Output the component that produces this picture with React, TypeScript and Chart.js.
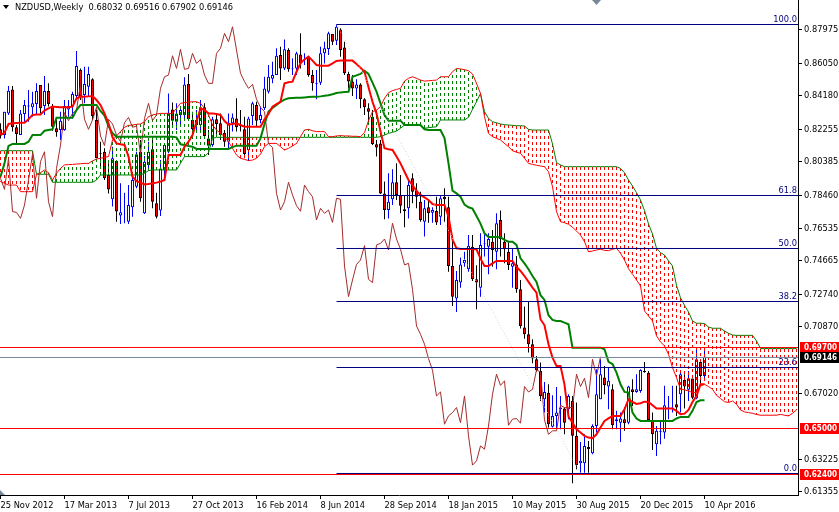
import { useEffect, useRef } from "react"
import { Chart, registerables } from "chart.js"

Chart.register(...registerables)

const dateLabels = ["25 Nov 2012", "17 Mar 2013", "7 Jul 2013", "27 Oct 2013", "16 Feb 2014", "8 Jun 2014", "28 Sep 2014", "18 Jan 2015", "10 May 2015", "30 Aug 2015", "20 Dec 2015", "10 Apr 2016"]
const dateTicks = [0, 16, 32, 48, 64, 80, 96, 112, 128, 144, 160, 176]
const priceTicks = [0.87975, 0.8605, 0.8418, 0.82255, 0.80385, 0.7846, 0.76535, 0.74665, 0.7274, 0.7087, 0.6702, 0.63225, 0.61355]

const opens = [
  .8225,.8192,.8317,.8455,.8237,.8192,.8313,.8356,.8352,.8371,
  .8480,.8359,.8446,.8359,.8231,.8221,.8221,.8340,.8356,.8417,
  .8567,.8423,.8471,.8513,.8279,.8087,.8096,.7962,.7822,.8043,
  .7728,.7710,.7693,.7776,.7895,.8096,.7741,.8020,.8110,.7799,
  .7757,.7991,.8096,.8340,.8269,.8308,.8308,.8486,.8279,.8248,
  .8250,.8352,.8173,.8135,.8283,.8260,.8206,.8154,.8260,.8288,
  .8250,.8225,.8106,.8302,.8365,.8279,.8346,.8442,.8517,.8538,
  .8653,.8576,.8682,.8571,.8576,.8657,.8624,.8640,.8538,.8486,
  .8494,.8663,.8688,.8774,.8736,.8801,.8697,.8544,.8500,.8461,
  .8484,.8398,.8346,.8298,.8139,.8144,.7856,.7760,.7822,.7920,
  .7847,.7764,.7770,.7943,.7872,.7808,.7693,.7776,.7745,.7755,
  .7722,.7837,.7776,.7438,.7250,.7342,.7453,.7419,.7549,.7361,
  .7313,.7563,.7549,.7578,.7520,.7703,.7578,.7520,.7434,.7447,
  .7303,.7083,.7044,.6987,.6900,.6833,.6670,.6708,.6512,.6574,
  .6612,.6616,.6612,.6660,.6459,.6301,.6301,.6395,.6359,.6516,
  .6670,.6795,.6743,.6727,.6545,.6535,.6555,.6535,.6727,.6712,
  .6718,.6833,.6823,.6551,.6411,.6482,.6478,.6616,.6616,.6641,
  .6699,.6781,.6724,.6789,.6674,.6885,.68032,
]
const highs = [
  .8260,.8327,.8475,.8475,.8250,.8336,.8394,.8452,.8442,.8490,
  .8480,.8532,.8490,.8371,.8279,.8327,.8394,.8394,.8442,.8676,
  .8576,.8586,.8586,.8519,.8336,.8154,.8116,.8029,.8125,.8048,
  .7914,.7860,.7904,.7952,.8096,.8164,.8071,.8154,.8164,.7860,
  .8048,.8144,.8432,.8379,.8375,.8356,.8525,.8544,.8327,.8336,
  .8394,.8375,.8221,.8298,.8317,.8317,.8221,.8317,.8317,.8404,
  .8336,.8298,.8298,.8384,.8384,.8356,.8528,.8596,.8615,.8692,
  .8701,.8743,.8692,.8634,.8672,.8778,.8663,.8640,.8567,.8567,
  .8701,.8730,.8788,.8774,.8832,.8807,.8730,.8557,.8538,.8513,
  .8490,.8404,.8375,.8336,.8164,.8164,.7924,.7972,.7995,.8029,
  .7962,.7847,.7933,.7972,.7914,.7866,.7818,.7818,.7776,.7837,
  .7847,.7885,.7837,.7616,.7409,.7486,.7520,.7616,.7616,.7442,
  .7626,.7626,.7626,.7645,.7741,.7757,.7626,.7578,.7540,.7495,
  .7357,.7204,.7236,.7016,.6919,.6881,.6770,.6756,.6693,.6741,
  .6689,.6622,.6699,.6689,.6651,.6424,.6468,.6430,.6526,.6843,
  .6900,.6862,.6852,.6756,.6603,.6593,.6622,.6747,.6785,.6814,
  .6843,.6885,.6833,.6593,.6516,.6545,.6747,.6689,.6747,.6747,
  .6833,.6814,.6833,.6789,.6958,.6900,.69516,
]
const lows = [
  .8173,.8173,.8308,.8212,.8144,.8192,.8269,.8269,.8298,.8308,
  .8317,.8308,.8356,.8217,.8183,.8164,.8217,.8298,.8288,.8394,
  .8394,.8375,.8413,.8279,.8058,.8000,.7933,.7856,.7780,.7693,
  .7680,.7684,.7680,.7722,.7885,.7808,.7737,.8000,.7770,.7712,
  .7726,.7952,.8087,.8240,.8221,.8240,.8283,.8279,.8202,.8212,
  .8221,.8183,.8077,.8125,.8192,.8164,.8125,.8116,.8212,.8212,
  .8212,.8058,.8043,.8250,.8240,.8260,.8336,.8432,.8490,.8538,
  .8509,.8567,.8557,.8538,.8538,.8576,.8596,.8528,.8448,.8398,
  .8480,.8605,.8653,.8711,.8711,.8644,.8538,.8461,.8417,.8400,
  .8346,.8308,.8260,.8135,.8068,.7853,.7707,.7712,.7789,.7818,
  .7741,.7661,.7712,.7799,.7770,.7693,.7607,.7687,.7687,.7674,
  .7674,.7693,.7405,.7207,.7173,.7313,.7434,.7405,.7351,.7188,
  .7261,.7492,.7390,.7434,.7419,.7492,.7453,.7415,.7313,.7284,
  .7077,.7019,.6939,.6877,.6829,.6660,.6593,.6507,.6507,.6497,
  .6497,.6468,.6555,.6186,.6267,.6247,.6247,.6247,.6353,.6478,
  .6670,.6699,.6612,.6497,.6497,.6424,.6488,.6526,.6631,.6708,
  .6708,.6823,.6545,.6378,.6343,.6411,.6443,.6555,.6593,.6574,
  .6593,.6616,.6660,.6670,.6670,.6747,.67902,
]
const closes = [
  .8192,.8327,.8448,.8237,.8198,.8317,.8365,.8363,.8375,.8446,
  .8346,.8446,.8371,.8240,.8208,.8275,.8359,.8359,.8429,.8590,
  .8413,.8486,.8544,.8302,.8058,.8083,.7943,.7879,.8058,.7751,
  .7747,.7712,.7789,.7933,.8081,.7828,.8039,.8096,.7808,.7722,
  .8000,.8135,.8321,.8275,.8317,.8336,.8484,.8283,.8225,.8279,
  .8352,.8187,.8131,.8283,.8256,.8192,.8154,.8263,.8294,.8237,
  .8244,.8083,.8288,.8375,.8275,.8308,.8461,.8528,.8538,.8649,
  .8576,.8686,.8571,.8576,.8663,.8605,.8628,.8538,.8490,.8490,
  .8663,.8692,.8778,.8730,.8816,.8682,.8548,.8500,.8461,.8484,
  .8398,.8352,.8327,.8141,.8121,.7856,.7760,.7808,.7920,.7847,
  .7785,.7753,.7904,.7866,.7837,.7703,.7770,.7741,.7760,.7689,
  .7828,.7822,.7438,.7261,.7357,.7447,.7472,.7555,.7361,.7342,
  .7559,.7568,.7593,.7530,.7684,.7593,.7534,.7444,.7453,.7303,
  .7092,.7044,.6987,.6904,.6837,.6689,.6712,.6526,.6574,.6593,
  .6622,.6535,.6689,.6459,.6290,.6315,.6401,.6382,.6516,.6699,
  .6814,.6750,.6776,.6520,.6555,.6559,.6532,.6743,.6712,.6727,
  .6839,.6827,.6551,.6468,.6488,.6488,.6635,.6622,.6622,.6622,
  .6814,.6743,.6791,.6679,.6900,.6804,.69146,
]
const tenkan = [
  .8192,.8206,.8256,.8260,.8262,.8263,.8263,.8283,.8308,.8310,
  .8311,.8333,.8346,.8356,.8354,.8352,.8352,.8352,.8356,.8404,
  .8413,.8413,.8415,.8417,.8394,.8365,.8317,.8260,.8179,.8144,
  .8139,.8135,.8068,.7952,.7927,.7918,.7908,.7910,.7914,.7918,
  .7924,.7933,.8077,.8077,.8077,.8077,.8125,.8154,.8192,.8269,
  .8346,.8336,.8317,.8317,.8313,.8308,.8273,.8252,.8256,.8260,
  .8250,.8240,.8240,.8240,.8240,.8240,.8283,.8313,.8356,.8371,
  .8384,.8490,.8496,.8500,.8557,.8605,.8628,.8644,.8621,.8596,
  .8592,.8592,.8592,.8605,.8619,.8621,.8621,.8621,.8621,.8601,
  .8580,.8557,.8467,.8384,.8317,.8212,.8116,.8110,.8106,.8068,
  .8029,.7981,.7933,.7904,.7870,.7847,.7833,.7818,.7795,.7789,
  .7789,.7789,.7722,.7591,.7540,.7536,.7536,.7536,.7536,.7534,
  .7480,.7438,.7438,.7453,.7467,.7467,.7467,.7467,.7467,.7432,
  .7409,.7380,.7346,.7313,.7284,.7131,.7096,.6987,.6910,.6862,
  .6862,.6754,.6570,.6535,.6497,.6478,.6459,.6449,.6445,.6468,
  .6507,.6545,.6560,.6574,.6574,.6574,.6612,.6670,.6654,.6643,
  .6647,.6656,.6654,.6635,.6616,.6616,.6616,.6616,.6616,.6603,
  .6584,.6587,.6608,.6654,.6689,.6756,.6756,
]
const kijun = [
  .7952,.8029,.8129,.8141,.8141,.8141,.8141,.8154,.8192,.8192,
  .8192,.8217,.8221,.8225,.8292,.8292,.8292,.8292,.8292,.8336,
  .8365,.8365,.8365,.8365,.8365,.8331,.8304,.8244,.8202,.8183,
  .8183,.8183,.8183,.8183,.8183,.8183,.8183,.8183,.8183,.8183,
  .8183,.8183,.8183,.8183,.8179,.8139,.8135,.8129,.8125,.8112,
  .8112,.8112,.8112,.8112,.8112,.8112,.8112,.8112,.8123,.8131,
  .8131,.8131,.8131,.8131,.8131,.8173,.8256,.8327,.8348,.8365,
  .8384,.8396,.8404,.8406,.8407,.8407,.8409,.8411,.8413,.8413,
  .8415,.8419,.8421,.8427,.8434,.8438,.8440,.8442,.8528,.8536,
  .8544,.8563,.8544,.8494,.8442,.8375,.8308,.8275,.8275,.8275,
  .8275,.8250,.8250,.8250,.8250,.8250,.8225,.8221,.8221,.8221,
  .8221,.8175,.8029,.7872,.7856,.7837,.7791,.7776,.7768,.7726,
  .7682,.7626,.7605,.7605,.7605,.7603,.7588,.7578,.7578,.7559,
  .7482,.7453,.7419,.7380,.7346,.7269,.7242,.7154,.7127,.7121,
  .7121,.7111,.7102,.6967,.6967,.6967,.6967,.6967,.6967,.6967,
  .6967,.6958,.6885,.6873,.6823,.6756,.6712,.6708,.6593,.6559,
  .6545,.6545,.6545,.6545,.6545,.6545,.6545,.6545,.6545,.6559,
  .6568,.6568,.6568,.6603,.6654,.6664,.6664,
]
const spanA = [
  .7924,.7914,.7904,.7904,.7904,.7866,.7866,.7866,.7866,.7966,
  .7975,.7991,.7975,.7933,.7972,.8000,.8020,.8022,.8023,.8025,
  .8027,.8029,.8029,.8043,.8054,.8058,.8064,.8068,.8164,.8187,
  .8212,.8237,.8248,.8250,.8254,.8256,.8269,.8298,.8308,.8313,
  .8317,.8317,.8317,.8317,.8346,.8375,.8379,.8382,.8384,.8384,
  .8375,.8346,.8308,.8250,.8221,.8202,.8183,.8154,.8116,.8077,
  .8058,.8052,.8045,.8048,.8058,.8083,.8125,.8144,.8144,.8144,
  .8125,.8106,.8116,.8129,.8144,.8183,.8221,.8225,.8217,.8212,
  .8212,.8212,.8183,.8183,.8187,.8189,.8187,.8187,.8185,.8185,
  .8183,.8206,.8275,.8327,.8336,.8356,.8404,.8436,.8448,.8455,
  .8461,.8503,.8519,.8528,.8519,.8509,.8503,.8505,.8507,.8509,
  .8528,.8528,.8528,.8557,.8576,.8573,.8569,.8563,.8544,.8490,
  .8432,.8298,.8202,.8183,.8173,.8164,.8144,.8125,.8102,.8093,
  .8087,.8058,.8029,.8023,.8018,.8014,.8010,.7981,.7895,.7751,
  .7693,.7687,.7678,.7661,.7639,.7616,.7578,.7520,.7524,.7530,
  .7534,.7528,.7526,.7534,.7540,.7511,.7472,.7422,.7390,.7357,
  .7323,.7179,.7150,.7121,.7035,.7000,.6977,.6929,.6852,.6795,
  .6727,.6724,.6718,.6708,.6708,.6747,.6756,.6743,.6727,.6693,
  .6674,.6656,.6651,.6660,.6641,.6608,.6597,.6593,.6589,.6582,
  .6578,.6578,.6578,.6578,.6578,.6583,.6578,.6574,.6589,.6608,
]
const spanB = [
  .8102,.8102,.8102,.8102,.8102,.8102,.8102,.8102,.8102,.7966,
  .7966,.7966,.7966,.7920,.7920,.7920,.7920,.7920,.7920,.7920,
  .7920,.7920,.7920,.7920,.7933,.7962,.7962,.7962,.7962,.7962,
  .7962,.7962,.7962,.7962,.7962,.7962,.7972,.7987,.7991,.7991,
  .7991,.7991,.7991,.7991,.7991,.8029,.8068,.8068,.8068,.8068,
  .8068,.8068,.8091,.8173,.8179,.8179,.8179,.8179,.8179,.8179,
  .8179,.8179,.8179,.8179,.8179,.8179,.8179,.8179,.8179,.8179,
  .8179,.8179,.8179,.8179,.8179,.8179,.8179,.8179,.8179,.8179,
  .8179,.8179,.8179,.8179,.8179,.8179,.8179,.8179,.8179,.8179,
  .8179,.8179,.8179,.8179,.8179,.8183,.8192,.8202,.8208,.8215,
  .8231,.8250,.8250,.8250,.8250,.8250,.8231,.8235,.8237,.8240,
  .8279,.8279,.8279,.8279,.8279,.8279,.8279,.8294,.8340,.8384,
  .8432,.8327,.8288,.8269,.8263,.8256,.8252,.8250,.8248,.8246,
  .8246,.8244,.8225,.8221,.8221,.8221,.8221,.8221,.8141,.8033,
  .8020,.8010,.8010,.8010,.8010,.8010,.8010,.8010,.8010,.8010,
  .8010,.8010,.8010,.8010,.8010,.8000,.7975,.7933,.7899,.7860,
  .7818,.7757,.7680,.7622,.7540,.7515,.7501,.7467,.7438,.7326,
  .7255,.7211,.7173,.7121,.7108,.7108,.7106,.7086,.7079,.7079,
  .7079,.7063,.7050,.7040,.7038,.7038,.7038,.7038,.7038,.7006,
  .6962,.6962,.6962,.6962,.6962,.6962,.6962,.6962,.6962,.6962,
]

const fibPrices = [0.88291, 0.78439, 0.75385, 0.72331, 0.68528, 0.62421]
const fibNames = ["100.0", "61.8", "50.0", "38.2", "23.6", "0.0"]
const fibStart = 84
const fibEnd = 145
// level shown on the axis box, and where its line sits on the pixel grid
const redLevels = [0.697, 0.65, 0.624]
const redLines = [0.69681, 0.65013, 0.62363]
const bidPrice = 0.69146
const bidLine = 0.69105
const titleText = "NZDUSD,Weekly  0.68032 0.69516 0.67902 0.69146"

const xMin = -0.125
const xMax = 199.375
const FONT = "'DejaVu Sans Condensed', 'Noto Sans', sans-serif"
const FONT_SIZE = 9.2

const tile = (color: string, on: number, off: number) => {
  const c = document.createElement("canvas")
  c.width = 1
  c.height = on + off
  const g = c.getContext("2d")!
  g.fillStyle = color
  g.fillRect(0, 0, 1, on)
  return c
}

const overlay = {
  id: "overlay",
  afterDraw(chart: any) {
    const { ctx, scales } = chart
    const y = scales.y
    ctx.save()

    // title + little dropdown arrow
    ctx.fillStyle = "#000"
    ctx.beginPath()
    ctx.moveTo(3, 5)
    ctx.lineTo(9, 5)
    ctx.lineTo(6, 9)
    ctx.fill()
    ctx.font = `${FONT_SIZE}px ${FONT}`
    ctx.textBaseline = "middle"
    ctx.textAlign = "left"
    ctx.fillText(titleText, 15, 8)

    // chart shift markers
    ctx.fillStyle = "#778899"
    ctx.beginPath()
    ctx.moveTo(0, 490)
    ctx.lineTo(5, 495)
    ctx.lineTo(0, 495)
    ctx.fill()
    ctx.beginPath()
    ctx.moveTo(592, 0)
    ctx.lineTo(601, 0)
    ctx.lineTo(596.5, 5)
    ctx.fill()

    // fib labels
    ctx.fillStyle = "#000080"
    ctx.textAlign = "right"
    ctx.textBaseline = "bottom"
    fibPrices.forEach((p, i) => ctx.fillText(fibNames[i], 797, y.getPixelForValue(p) - 0.5))

    // price boxes on the axis
    ctx.font = `bold ${FONT_SIZE}px ${FONT}`
    ctx.textAlign = "left"
    ctx.textBaseline = "middle"
    const box = (p: number, at: number, bg: string) => {
      const py = y.getPixelForValue(at)
      ctx.fillStyle = bg
      ctx.fillRect(800, py - 5.5, 39, 11)
      ctx.fillStyle = "#fff"
      ctx.fillText(p.toFixed(5), 804, py, 33)
    }
    redLevels.forEach((p, i) => box(p, redLines[i], "#ff0000"))
    box(bidPrice, bidLine, "#000")
    ctx.restore()
  },
}

export default function App() {
  const ref = useRef<HTMLCanvasElement>(null)

  useEffect(() => {
    if (!ref.current) return
    const redTile = tile("#ff0000", 3, 3)
    const greenTile = tile("#008000", 3, 3)
    const up = (i: number) => closes[i] >= opens[i]
    const line = (pts: any[], color: string, width: number, order: number, dash?: number[]) => ({
      type: "line" as const,
      data: pts,
      borderColor: color,
      borderWidth: width,
      borderDash: dash || [],
      pointRadius: 0,
      tension: 0,
      order,
    })
    const series = (vals: number[]) => vals.map((v, i) => ({ x: i, y: v }))
    const across = (v: number, from = xMin) => [{ x: from, y: v }, { x: xMax, y: v }]

    // each hatch column starts its dashes at span B, like the platform draws them
    const cloudFill = (c: any) => {
      const i = c.dataIndex
      if (i === undefined) return "rgba(0,0,0,0)"
      const green = spanA[i] > spanB[i]
      const py = Math.round(c.chart.scales.y.getPixelForValue(spanB[i]))
      const p = c.chart.ctx.createPattern(green ? greenTile : redTile, "repeat")
      p.setTransform(new DOMMatrix().translate(0, green ? py - 3 : py))
      return p
    }

    const myChart = new Chart(ref.current, {
      type: "bar",
      data: {
        datasets: [
          // wicks and bodies
          {
            data: highs.map((h, i) => ({ x: i, y: [lows[i], h] })),
            backgroundColor: highs.map((_, i) => (up(i) ? "#0000ff" : "#000000")),
            barThickness: 1,
            grouped: false,
            inflateAmount: 0,
            order: 21,
          },
          {
            data: opens.map((o, i) => ({ x: i, y: [o, closes[i]] })),
            backgroundColor: opens.map((_, i) => (up(i) ? "#ffffff" : "#ff0000")),
            borderColor: opens.map((_, i) => (up(i) ? "#0000ff" : "#000000")),
            borderWidth: 1,
            borderSkipped: false,
            barThickness: 3,
            grouped: false,
            inflateAmount: 0,
            order: 20,
          },
          // cloud hatching
          {
            data: spanA.map((a, i) => ({ x: i, y: [a, spanB[i]] })),
            backgroundColor: cloudFill,
            barThickness: 1,
            grouped: false,
            inflateAmount: 0,
            order: 15,
          },
          line(series(spanA), "#ff0000", 1, 12),
          line(series(spanB), "#008000", 1, 12),
          line(series(closes.slice(26)), "#a52a2a", 1, 11),
          line(series(kijun), "#008000", 2, 10),
          line(series(tenkan), "#ff0000", 2, 9),
          line([{ x: fibStart, y: fibPrices[0] }, { x: fibEnd, y: fibPrices[5] }], "#d3d3d3", 1, 8, [1, 2]),
          ...fibPrices.map((p) => line(across(p, fibStart), "#000080", 1, 7)),
          ...redLines.map((p) => line(across(p), "#ff0000", 1, 6)),
          line(across(bidLine), "#778899", 1, 5),
        ] as any,
      },
      options: {
        responsive: false,
        animation: false,
        devicePixelRatio: 1,
        layout: { padding: 0 },
        plugins: { legend: { display: false }, tooltip: { enabled: false }, title: { display: false } },
        scales: {
          x: {
            type: "linear",
            offset: false,
            min: xMin,
            max: xMax,
            afterBuildTicks: (s: any) => {
              s.ticks = dateTicks.map((v) => ({ value: v }))
            },
            afterFit: (s: any) => {
              s.height = 17
              s.paddingLeft = 0
              s.paddingRight = 0
            },
            border: { color: "#000", width: 1 },
            grid: { drawOnChartArea: false, color: "#000", tickLength: 4, offset: false },
            ticks: {
              autoSkip: false,
              maxRotation: 0,
              align: "start",
              padding: 1,
              color: "#000",
              font: { family: FONT, size: FONT_SIZE },
              callback: (v: any) => dateLabels[dateTicks.indexOf(v)],
            },
          },
          y: {
            position: "right",
            min: 0.61182,
            max: 0.89703,
            afterBuildTicks: (s: any) => {
              s.ticks = priceTicks.map((v) => ({ value: v }))
            },
            afterFit: (s: any) => {
              s.width = 41
              s.paddingTop = 0
              s.paddingBottom = 0
            },
            border: { color: "#000", width: 1 },
            grid: { drawOnChartArea: false, color: "#000", tickLength: 4 },
            ticks: {
              autoSkip: false,
              padding: 2,
              color: "#000",
              font: { family: FONT, size: FONT_SIZE },
              callback: (v: any) => Number(v).toFixed(5),
            },
          },
        },
      } as any,
      plugins: [overlay],
    })

    return () => {
      myChart.destroy()
    }
  }, [])

  return (
    <div style={{ position: "absolute", left: 0, top: 0, width: 839, height: 512, background: "#fff" }}>
      <canvas ref={ref} width={839} height={512} style={{ display: "block" }} />
    </div>
  )
}
